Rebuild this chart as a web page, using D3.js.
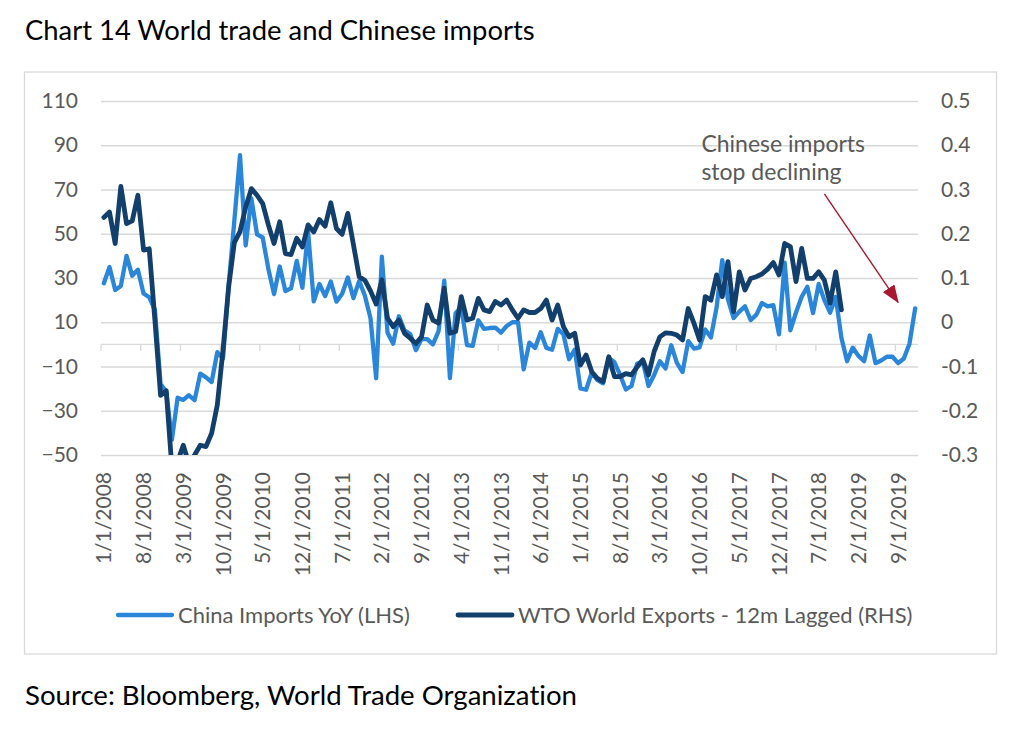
<!DOCTYPE html>
<html>
<head>
<meta charset="utf-8">
<script src="https://cdn.jsdelivr.net/npm/d3@7"></script>
<style>
  body { margin: 0; background: #fff; }
  text { font-family: Lato, "Open Sans", sans-serif; font-variant-ligatures: none; font-feature-settings: "liga" 0, "clig" 0; }
</style>
</head>
<body>
<svg id="chart"></svg>
<script>
const years = [2008, 2009, 2010, 2011, 2012, 2013, 2014, 2015, 2016, 2017, 2018, 2019];

const tickLabels = ['1/1/2008', '8/1/2008', '3/1/2009', '10/1/2009', '5/1/2010', '12/1/2010',
    '7/1/2011', '2/1/2012', '9/1/2012', '4/1/2013', '11/1/2013', '6/1/2014', '1/1/2015',
    '8/1/2015', '3/1/2016', '10/1/2016', '5/1/2017', '12/1/2017', '7/1/2018', '2/1/2019', '9/1/2019'];

const leftTicks = [-50, -30, -10, 10, 30, 50, 70, 90, 110];
const rightTicks = [-0.3, -0.2, -0.1, 0, 0.1, 0.2, 0.3, 0.4, 0.5];

// China imports YoY, % (left axis), one row per year
const chinaImports = [
    27.6, 35, 24.6, 26.4, 40, 31, 33.7, 23, 21.3, 15.6, -17.9, -21.3,
    -43.1, -24.1, -25.1, -23, -25.2, -13.2, -14.9, -17, -3.5, -6.4, 26.7, 55.9,
    85.5, 44.7, 66, 49.7, 48.3, 34.1, 22.7, 35.2, 24.1, 25.3, 37.7, 25.6,
    51, 19.4, 27.3, 21.8, 28.4, 19.3, 22.9, 30.2, 20.9, 28.7, 22.1, 11.8,
    -15.3, 39.6, 5.3, 0.3, 12.7, 6.3, 4.7, -2.6, 2.4, 2.4, 0, 6,
    28.8, -15.2, 14.1, 16.8, -0.3, -0.7, 10.9, 7, 7.4, 7.6, 5.3, 8.3,
    10, 10.1, -11.3, 0.8, -1.6, 5.5, -1.6, -2.4, 7, 4.6, -6.7, -2.4,
    -19.9, -20.5, -12.7, -16.2, -17.6, -6.1, -8.1, -13.8, -20.4, -18.8, -8.7, -7.6,
    -18.8, -13.8, -7.6, -10.9, -0.4, -8.4, -12.5, 1.5, -1.9, -1.4, 6.7, 3.1,
    16.7, 38.1, 20.3, 11.9, 14.8, 17.2, 11, 13.3, 18.7, 17.2, 17.7, 4.5,
    36.9, 6.3, 14.4, 21.5, 26, 14.1, 27.3, 20, 14.3, 21.4, 3, -7.6,
    -1.5, -5.2, -7.6, 4, -8.5, -7.3, -5.6, -5.6, -8.5, -6.4, 0.3, 16.3
];

// WTO world exports, 12m lagged (right axis)
const wtoExports = [
    0.237, 0.249, 0.178, 0.307, 0.223, 0.229, 0.287, 0.163, 0.166, 0.005, -0.165, -0.155,
    -0.33, -0.315, -0.278, -0.32, -0.30, -0.278, -0.281, -0.251, -0.187, -0.063, 0.08, 0.18,
    0.205, 0.26, 0.302, 0.287, 0.268, 0.22, 0.178, 0.227, 0.155, 0.153, 0.19, 0.17,
    0.22, 0.204, 0.232, 0.217, 0.27, 0.212, 0.199, 0.246, 0.175, 0.103, 0.095, 0.071,
    0.041, 0.096, 0.009, -0.01, 0.005, -0.025, -0.036, -0.048, -0.033, 0.039, 0.005, -0.002,
    0.077, -0.025, -0.021, 0.058, 0.005, 0.009, 0.054, 0.028, 0.024, 0.047, 0.039, 0.05,
    0.028, 0.009, 0.028, 0.022, 0.022, 0.031, 0.05, 0.005, 0.039, -0.01, -0.033, -0.025,
    -0.097, -0.074, -0.112, -0.127, -0.134, -0.078, -0.123, -0.123, -0.116, -0.119, -0.101, -0.085,
    -0.119, -0.066, -0.033, -0.024, -0.025, -0.029, -0.04, 0.031, -0.002, -0.04, 0.058, 0.05,
    0.107, 0.058, 0.137, 0.024, 0.114, 0.073, 0.099, 0.103, 0.109, 0.12, 0.135, 0.107,
    0.178, 0.171, 0.092, 0.167, 0.099, 0.099, 0.114, 0.095, 0.043, 0.114, 0.028
];

const seriesNames = ['China Imports YoY (LHS)', 'WTO World Exports - 12m Lagged (RHS)'];

// annotation anchored to data coordinates: [category, LHS value]
const noteLines = ['Chinese imports', 'stop declining'];
const noteText = ['11/1/2016', 87];
const noteArrow = [['8/1/2018', 68], ['9/1/2019', 19]];

const months = [];
years.forEach(y => d3.range(1, 13).forEach(m => months.push(`${m}/1/${y}`)));

class DualAxisChart {
    constructor (config) {
        this.config = {
            parent: config.parent,
            width: config.width || 1024,
            height: config.height || 734,
            plot: config.plot
        };
        this.init();
    }

    init() {
        let self = this;
        const p = self.config.plot;

        self.svg = d3.select(self.config.parent)
            .attr('width', self.config.width)
            .attr('height', self.config.height);

        self.xscale = d3.scaleBand()
            .domain(months)
            .range([p.left, p.right])
            .padding(0);

        self.yleft = d3.scaleLinear()
            .domain([-50, 110])
            .range([p.bottom, p.top]);

        self.yright = d3.scaleLinear()
            .domain([-0.3, 0.5])
            .range([p.bottom, p.top]);

        self.xmid = c => self.xscale(c) + self.xscale.bandwidth() / 2;
    }

    render() {
        let self = this;
        const p = self.config.plot;
        const grey = '#d9d9d9';
        const labelColor = '#595959';

        self.svg.append('text')
            .attr('x', 25)
            .attr('y', 40)
            .attr('font-size', '27.4px')
            .attr('fill', '#000')
            .text('Chart 14 World trade and Chinese imports');

        self.svg.append('rect')
            .attr('x', 24.5).attr('y', 72)
            .attr('width', 972).attr('height', 582)
            .attr('fill', 'none')
            .attr('stroke', grey)
            .attr('stroke-width', 1.3);

        // gridlines
        const grid = self.svg.append('g')
            .attr('transform', `translate(${p.left}, 0)`)
            .call(d3.axisLeft(self.yleft).tickValues(leftTicks).tickSize(-(p.right - p.left)).tickFormat(''));
        grid.select('.domain').remove();
        grid.selectAll('line').attr('stroke', grey).attr('stroke-width', 1.3);

        // horizontal axis at zero with ticks between categories
        const y0 = self.yleft(0);
        self.svg.append('line')
            .attr('x1', p.left).attr('x2', p.right)
            .attr('y1', y0).attr('y2', y0)
            .attr('stroke', grey).attr('stroke-width', 1.3);
        self.svg.selectAll('.xtick')
            .data(tickLabels)
            .join('line')
            .attr('class', 'xtick')
            .attr('x1', d => self.xscale(d)).attr('x2', d => self.xscale(d))
            .attr('y1', y0).attr('y2', y0 + 6.5)
            .attr('stroke', grey).attr('stroke-width', 1.3);

        // left labels
        const left = self.svg.append('g')
            .attr('transform', `translate(${p.left}, 0)`)
            .call(d3.axisLeft(self.yleft).tickValues(leftTicks).tickSize(0).tickPadding(23));
        left.select('.domain').remove();
        left.selectAll('text').attr('font-size', '21px').attr('fill', labelColor).attr('font-family', 'Lato');

        // right labels
        const right = self.svg.append('g')
            .attr('transform', `translate(${p.right}, 0)`)
            .call(d3.axisRight(self.yright).tickValues(rightTicks).tickSize(0).tickPadding(23)
                .tickFormat(d => Math.abs(d) < 1e-9 ? '0' : d3.format('.1f')(d).replace('−', '-')));
        right.select('.domain').remove();
        right.selectAll('text').attr('font-size', '21px').attr('fill', labelColor).attr('font-family', 'Lato');

        // date labels
        const xlab = self.svg.append('g')
            .attr('transform', `translate(0, ${p.bottom})`)
            .call(d3.axisBottom(self.xscale).tickValues(tickLabels).tickSize(0));
        xlab.select('.domain').remove();
        xlab.selectAll('text')
            .attr('font-size', '21px')
            .attr('font-family', 'Lato')
            .attr('fill', labelColor)
            .attr('text-anchor', 'end')
            .attr('transform', 'rotate(-90)')
            .attr('x', -17)
            .attr('y', 0)
            .attr('dy', '0.36em');

        // lines
        self.svg.append('clipPath')
            .attr('id', 'plot-clip')
            .append('rect')
            .attr('x', p.left).attr('y', p.top - 10)
            .attr('width', p.right - p.left).attr('height', p.bottom - p.top + 10);

        const lines = self.svg.append('g').attr('clip-path', 'url(#plot-clip)');

        const chinaLine = d3.line()
            .x((d, i) => self.xmid(months[i]))
            .y(d => self.yleft(d));
        const wtoLine = d3.line()
            .x((d, i) => self.xmid(months[i]))
            .y(d => self.yright(d));

        lines.append('path')
            .datum(chinaImports)
            .attr('d', chinaLine)
            .attr('fill', 'none')
            .attr('stroke', '#2a86da')
            .attr('stroke-width', 4.3)
            .attr('stroke-linejoin', 'round')
            .attr('stroke-linecap', 'round');

        lines.append('path')
            .datum(wtoExports)
            .attr('d', wtoLine)
            .attr('fill', 'none')
            .attr('stroke', '#123f6c')
            .attr('stroke-width', 4.8)
            .attr('stroke-linejoin', 'round')
            .attr('stroke-linecap', 'round');

        // annotation
        self.svg.append('defs').append('marker')
            .attr('id', 'arrowhead')
            .attr('markerUnits', 'userSpaceOnUse')
            .attr('viewBox', '0 0 18 14')
            .attr('refX', 17).attr('refY', 7)
            .attr('markerWidth', 18).attr('markerHeight', 14)
            .attr('orient', 'auto')
            .append('path')
            .attr('d', 'M0,0 L18,7 L0,14 Z')
            .attr('fill', '#a8182f');

        self.svg.append('line')
            .attr('x1', self.xmid(noteArrow[0][0])).attr('y1', self.yleft(noteArrow[0][1]))
            .attr('x2', self.xmid(noteArrow[1][0])).attr('y2', self.yleft(noteArrow[1][1]))
            .attr('stroke', '#a8182f')
            .attr('stroke-width', 1.4)
            .attr('marker-end', 'url(#arrowhead)');

        self.svg.append('text')
            .attr('x', self.xscale(noteText[0]) - 1)
            .attr('y', self.yleft(noteText[1]))
            .attr('font-size', '23px')
            .attr('fill', labelColor)
            .selectAll('tspan')
            .data(noteLines)
            .join('tspan')
            .attr('x', self.xscale(noteText[0]) - 1)
            .attr('dy', (d, i) => i === 0 ? 0 : 28)
            .text(d => d);

        // legend
        const legend = [
            {name: seriesNames[0], color: '#2a86da', width: 4.3, x: 118},
            {name: seriesNames[1], color: '#123f6c', width: 4.8, x: 458}
        ];
        const lg = self.svg.selectAll('.legend')
            .data(legend)
            .join('g')
            .attr('class', 'legend')
            .attr('transform', d => `translate(${d.x}, 615)`);
        lg.append('line')
            .attr('x1', 0).attr('x2', 54)
            .attr('stroke', d => d.color)
            .attr('stroke-width', d => d.width)
            .attr('stroke-linecap', 'round');
        lg.append('text')
            .attr('x', 60)
            .attr('dy', '0.35em')
            .attr('font-size', '22px')
            .attr('fill', labelColor)
            .text(d => d.name);

        self.svg.append('text')
            .attr('x', 25)
            .attr('y', 705)
            .attr('font-size', '27.6px')
            .attr('fill', '#000')
            .text('Source: Bloomberg, World Trade Organization');
    }
}

const chart = new DualAxisChart({
    parent: '#chart',
    plot: {left: 101, right: 918, top: 101, bottom: 455}
});
chart.render();
</script>
</body>
</html>
